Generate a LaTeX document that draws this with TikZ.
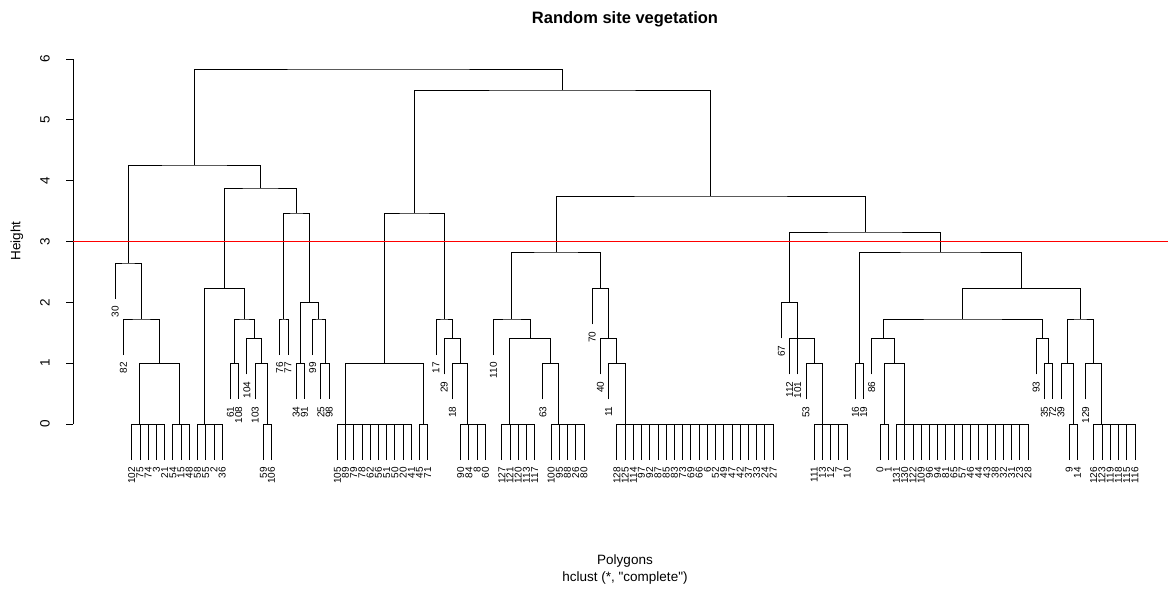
\PassOptionsToPackage{rgb}{xcolor}
\documentclass[tikz,border=0pt]{standalone}
\usepackage{xcolor}
\usepackage{fontspec}
\setmainfont{Liberation Sans}[Ligatures=TeXOff]
\usetikzlibrary{calc}
\definecolor{cutred}{rgb}{1,0,0}
\tikzset{
  tree/.style={line width=0.8pt, draw=black},
  cutline/.style={line width=1.2pt, color=cutred, draw=cutred},
  leaflab/.style={rotate=90, anchor=east, inner sep=0pt, font=\fontsize{10}{12}\selectfont},
  axlab/.style={rotate=90, inner sep=0pt, font=\fontsize{13.5}{15}\selectfont},
  plainlab/.style={inner sep=0pt, font=\fontsize{13.5}{15}\selectfont},
}
\newcommand\LX[1]{115.3+8.2226*(#1)}
\newcommand\leaf[4]{%
  \coordinate (#1) at ({\LX{#2}},{#4+36});
  \node[leaflab] (#1lab) at ({\LX{#2}},{#4+43}) {#3};}
\newcommand\clus[4]{%
  \foreach \lab [count=\kk from 0] in {#4} {
    \coordinate (#1-\kk) at ({\LX{#2+\kk}},460);
    \draw[tree] (#1-\kk) -- ++(0,-36);
    \node[leaflab] (#1-\kk-lab) at ({\LX{#2+\kk}},467) {\lab};
  }
  \draw[tree] ({\LX{#2}},424) -- ({\LX{#2+#3-1}},424);
  \coordinate (#1) at ({\LX{#2}+8.2226*(1-1/(2^(min(#3-1,12))))},424);}
\newcommand\merge[4]{%
  \coordinate (tmp) at ($(#2)!0.5!(#3)$);
  \coordinate (yref) at (0,#4);
  \coordinate (#1) at (tmp |- yref);
  \draw[tree] (#2) |- (#1) -| (#3);}
\def\yA{363.3}\def\yB{338.3}\def\yC{319}\def\yD{302.3}\def\yE{288.3}
\def\yF{263}\def\yG{252}\def\yH{232}\def\yI{213}\def\yJ{196}
\def\yK{188}\def\yL{165}\def\yM{90}\def\yN{69}
\begin{document}
\begin{tikzpicture}[x=1pt,y=-1pt]
\useasboundingbox (0,0) rectangle (1168,590);
% titles
\node[inner sep=0pt, font=\fontsize{16.5}{18}\selectfont\bfseries] (title) at (625,19) {Random site vegetation};
\node[plainlab] (xlab) at (625,561) {Polygons};
\node[plainlab] (sub) at (625,578) {hclust (*, "complete")};
\node[axlab] (ylab) at (17,241) {Height};
% axis
\coordinate (ax0) at (73,424);
\coordinate (ax6) at (73,59);
\draw[tree] (ax0) -- (ax6);
\foreach \h in {0,...,6} {
  \coordinate (t\h) at (73,{424-60.83*\h});
  \draw[tree] (t\h) -- ++(-7,0);
  \node[axlab] (tl\h) at (45,{424-60.83*\h}) {\h};
}
% ---- left branch
\clus{cA}{2}{5}{102,75,74,3,21}
\clus{cB}{7}{3}{54,15,48}
\merge{m1}{cA}{cB}{\yA}
\leaf{l82}{1}{82}{\yC}
\merge{m2}{l82}{m1}{\yC}
\leaf{l30}{0}{30}{\yF}
\merge{m3}{l30}{m2}{\yF}
\clus{cC}{10}{4}{58,55,2,36}
\leaf{l61}{14}{61}{\yA}
\leaf{l108}{15}{108}{\yA}
\merge{m4}{l61}{l108}{\yA}
\leaf{l104}{16}{104}{\yB}
\leaf{l103}{17}{103}{\yA}
\clus{cS}{18}{2}{59,106}
\merge{m5}{l103}{cS}{\yA}
\merge{m6}{l104}{m5}{\yB}
\merge{m7}{m4}{m6}{\yC}
\merge{m8}{cC}{m7}{\yE}
\leaf{l76}{20}{76}{\yC}
\leaf{l77}{21}{77}{\yC}
\merge{m9}{l76}{l77}{\yC}
\leaf{l34}{22}{34}{\yA}
\leaf{l91}{23}{91}{\yA}
\merge{m10}{l34}{l91}{\yA}
\leaf{l99}{24}{99}{\yC}
\leaf{l25}{25}{25}{\yA}
\leaf{l98}{26}{98}{\yA}
\merge{m11}{l25}{l98}{\yA}
\merge{m12}{l99}{m11}{\yC}
\merge{m13}{m10}{m12}{\yD}
\merge{m14}{m9}{m13}{\yI}
\merge{m15}{m8}{m14}{\yK}
\merge{m16}{m3}{m15}{\yL}
% ---- middle
\clus{cD}{27}{10}{105,89,79,78,62,56,51,50,20,41}
\clus{cE}{37}{2}{45,71}
\merge{m17}{cD}{cE}{\yA}
\leaf{l17}{39}{17}{\yC}
\leaf{l29}{40}{29}{\yB}
\leaf{l18}{41}{18}{\yA}
\clus{cF}{42}{4}{90,84,8,60}
\merge{m18}{l18}{cF}{\yA}
\merge{m19}{l29}{m18}{\yB}
\merge{m20}{l17}{m19}{\yC}
\merge{m21}{m17}{m20}{\yI}
\leaf{l110}{46}{110}{\yC}
\clus{cG}{47}{5}{127,121,120,113,117}
\leaf{l63}{52}{63}{\yA}
\clus{cH}{53}{5}{100,95,88,26,80}
\merge{m22}{l63}{cH}{\yA}
\merge{m23}{cG}{m22}{\yB}
\merge{m24}{l110}{m23}{\yC}
\leaf{l70}{58}{70}{\yE}
\leaf{l40}{59}{40}{\yB}
\leaf{l11}{60}{11}{\yA}
\clus{cI}{61}{20}{128,125,114,97,92,87,85,83,73,69,66,6,52,49,47,42,37,33,24,27}
\merge{m25}{l11}{cI}{\yA}
\merge{m26}{l40}{m25}{\yB}
\merge{m27}{l70}{m26}{\yE}
\merge{m28}{m24}{m27}{\yG}
% ---- right
\leaf{l67}{81}{67}{\yD}
\leaf{l112}{82}{112}{\yB}
\leaf{l101}{83}{101}{\yB}
\leaf{l53}{84}{53}{\yA}
\clus{cJ}{85}{5}{111,13,12,7,10}
\merge{m29}{l53}{cJ}{\yA}
\merge{m30}{l101}{m29}{\yB}
\merge{m31}{l112}{m30}{\yB}
\merge{m32}{l67}{m31}{\yD}
\leaf{l16}{90}{16}{\yA}
\leaf{l19}{91}{19}{\yA}
\merge{m33}{l16}{l19}{\yA}
\leaf{l86}{92}{86}{\yB}
\clus{cK}{93}{2}{0,1}
\clus{cL}{95}{17}{131,130,122,109,96,94,81,65,57,46,44,43,38,32,31,23,28}
\merge{m34}{cK}{cL}{\yA}
\merge{m35}{l86}{m34}{\yB}
\leaf{l93}{112}{93}{\yB}
\leaf{l35}{113}{35}{\yA}
\leaf{l72}{114}{72}{\yA}
\merge{m36}{l35}{l72}{\yA}
\merge{m37}{l93}{m36}{\yB}
\merge{m38}{m35}{m37}{\yC}
\leaf{l39}{115}{39}{\yA}
\clus{cM}{116}{2}{9,14}
\merge{m39}{l39}{cM}{\yA}
\leaf{l129}{118}{129}{\yA}
\clus{cN}{119}{6}{126,123,119,118,115,116}
\merge{m40}{l129}{cN}{\yA}
\merge{m41}{m39}{m40}{\yC}
\merge{m42}{m38}{m41}{\yE}
\merge{m43}{m33}{m42}{\yG}
\merge{m44}{m32}{m43}{\yH}
\merge{m45}{m28}{m44}{\yJ}
\merge{m46}{m21}{m45}{\yM}
\merge{m47}{m16}{m46}{\yN}
% cut line
\coordinate (rl) at (73,241.5);
\coordinate (rr) at (1168,241.5);
\draw[cutline] (rl) -- (rr);
\end{tikzpicture}
\end{document}
